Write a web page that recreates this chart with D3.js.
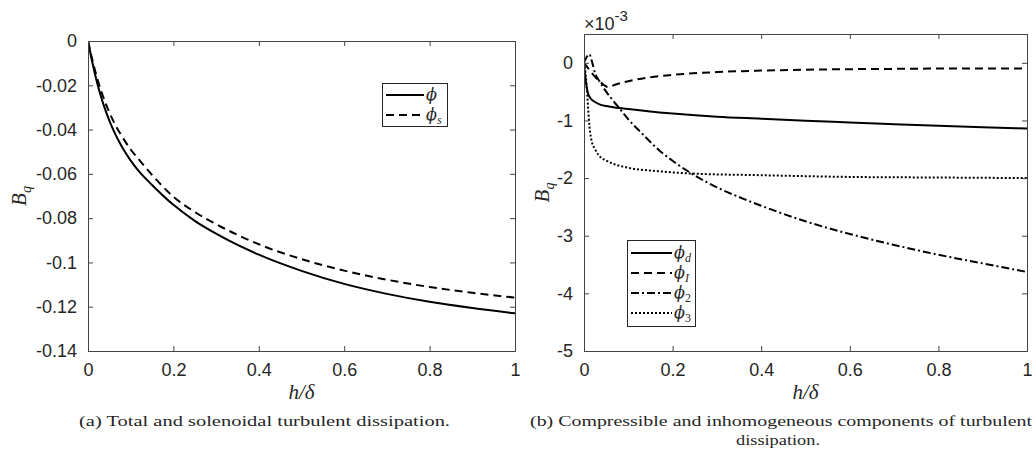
<!DOCTYPE html>
<html><head><meta charset="utf-8">
<script src="https://cdn.jsdelivr.net/npm/d3@7"></script>
<style>
body{margin:0;background:#fff;}
svg text{fill:#262626;}
</style>
</head><body>
<svg id="c" width="1036" height="449"></svg>
<script>
// ---- Data (a) ----
const xA = [0, 0.01, 0.02, 0.03, 0.04, 0.05, 0.06, 0.08, 0.1, 0.12, 0.15, 0.2, 0.25, 0.3, 0.4, 0.5, 0.6, 0.7, 0.8, 0.9, 1.0];
const phi = [0, -0.0095, -0.0178, -0.0248, -0.0308, -0.0360, -0.0405, -0.0480, -0.0540, -0.0590, -0.0650, -0.0740, -0.0812, -0.0870, -0.0965, -0.1038, -0.1097, -0.1142, -0.1178, -0.1206, -0.1230];
const phiS = [0, -0.0084, -0.0158, -0.0221, -0.0275, -0.0322, -0.0364, -0.0432, -0.0490, -0.0537, -0.0605, -0.0703, -0.0772, -0.0827, -0.0918, -0.0985, -0.1037, -0.1078, -0.1111, -0.1137, -0.1159];
const xTicksA = [0, 0.2, 0.4, 0.6, 0.8, 1];
const yTicksA = [0, -0.02, -0.04, -0.06, -0.08, -0.1, -0.12, -0.14];
const yTickLabelsA = ["0", "-0.02", "-0.04", "-0.06", "-0.08", "-0.1", "-0.12", "-0.14"];

// ---- Data (b) (values x 1e-3) ----
const xD = [0, 0.001, 0.003, 0.006, 0.009, 0.015, 0.025, 0.035, 0.05, 0.08, 0.12, 0.17, 0.2, 0.3, 0.4, 0.5, 0.6, 0.7, 0.8, 0.9, 1.0];
const phiD = [0, -0.1, -0.25, -0.42, -0.53, -0.62, -0.68, -0.72, -0.75, -0.785, -0.82, -0.86, -0.88, -0.935, -0.97, -1.005, -1.035, -1.065, -1.094, -1.12, -1.14];
const xI = [0, 0.01, 0.02, 0.035, 0.055, 0.07, 0.1, 0.15, 0.2, 0.3, 0.4, 0.5, 0.6, 0.7, 0.8, 0.9, 1.0];
const phiI = [0, -0.1, -0.2, -0.32, -0.42, -0.38, -0.32, -0.25, -0.21, -0.16, -0.135, -0.12, -0.11, -0.105, -0.1, -0.1, -0.1];
const x2 = [0, 0.006, 0.012, 0.018, 0.025, 0.035, 0.05, 0.065, 0.081, 0.1, 0.13, 0.17, 0.2, 0.247, 0.3, 0.36, 0.4, 0.5, 0.6, 0.7, 0.8, 0.9, 1.0];
const phi2 = [0, 0.1, 0.15, 0.02, -0.18, -0.32, -0.5, -0.65, -0.8, -0.98, -1.22, -1.52, -1.70, -1.94, -2.16, -2.36, -2.48, -2.75, -2.97, -3.16, -3.33, -3.48, -3.63];
const x3 = [0, 0.003, 0.006, 0.009, 0.011, 0.0165, 0.025, 0.032, 0.054, 0.1, 0.167, 0.24, 0.4, 0.6, 0.8, 1.0];
const phi3 = [0, -0.15, -0.4, -0.75, -0.98, -1.33, -1.5, -1.59, -1.71, -1.82, -1.88, -1.92, -1.95, -1.98, -1.99, -2.0];
const xTicksB = [0, 0.2, 0.4, 0.6, 0.8, 1];
const yTicksB = [0, -1, -2, -3, -4, -5];
const yTickLabelsB = ["0", "-1", "-2", "-3", "-4", "-5"];

const svg = d3.select("#c");
const tickFont = "'Liberation Sans', Arial, sans-serif";
const serif = "'Liberation Serif', 'Times New Roman', serif";
const mathFont = "'DejaVu Serif', serif";

function panel(o) {
  const x = d3.scaleLinear().domain(o.xDomain).range(o.xRange);
  const y = d3.scaleLinear().domain(o.yDomain).range(o.yRange);
  const g = svg.append("g");
  const [x0, x1] = o.xRange, [y0, y1] = o.yRange;
  const clipId = "clip" + o.id;
  svg.append("clipPath").attr("id", clipId).append("rect")
    .attr("x", x0).attr("y", y1).attr("width", x1 - x0).attr("height", y0 - y1);

  const lg = g.append("g").attr("clip-path", `url(#${clipId})`);
  o.series.forEach(s => {
    const line = d3.line().x(d => x(d[0])).y(d => y(d[1])).curve(d3.curveMonotoneX);
    lg.append("path").datum(s.x.map((v, i) => [v, s.y[i]]))
      .attr("d", line).attr("fill", "none").attr("stroke", "#000")
      .attr("stroke-width", 2).attr("stroke-dasharray", s.dash || null);
  });

  const tl = 5;
  const ax = g.append("g");
  ax.append("g").attr("transform", `translate(0,${y0})`)
    .call(d3.axisBottom(x).tickValues(o.xTicks).tickSize(-tl).tickPadding(12).tickFormat(d3.format("")));
  ax.append("g").attr("transform", `translate(0,${y1})`)
    .call(d3.axisTop(x).tickValues(o.xTicks).tickSize(-tl).tickFormat(""));
  ax.append("g").attr("transform", `translate(${x0},0)`)
    .call(d3.axisLeft(y).tickValues(o.yTicks).tickSize(-tl).tickPadding(11).tickFormat((d, i) => o.yLabels[i]));
  ax.append("g").attr("transform", `translate(${x1},0)`)
    .call(d3.axisRight(y).tickValues(o.yTicks).tickSize(-tl).tickFormat(""));
  ax.selectAll(".domain").attr("stroke", "#444").attr("stroke-width", 1);
  ax.selectAll(".tick line").attr("stroke", "#444");
  ax.selectAll("text").attr("font-family", tickFont).attr("font-size", 18).attr("fill", "#262626");

  g.append("text").attr("x", (x0 + x1) / 2).attr("y", o.xLabelY).attr("text-anchor", "middle")
    .attr("font-family", serif).attr("font-style", "italic").attr("font-size", 21).text("h/δ");
  const yl = g.append("text").attr("transform", `translate(${o.yLabelX},${(y0 + y1) / 2}) rotate(-90)`)
    .attr("text-anchor", "middle").attr("font-family", serif).attr("font-style", "italic").attr("font-size", 21);
  yl.append("tspan").text("B");
  yl.append("tspan").attr("font-size", 14).attr("dy", 5).text("q");

  const L = o.legend;
  g.append("rect").attr("x", L.x + 0.5).attr("y", L.y + 0.5).attr("width", L.w).attr("height", L.h)
    .attr("fill", "#fff").attr("stroke", "#262626").attr("stroke-width", 1);
  o.series.forEach((s, i) => {
    const yy = L.y + L.first + i * L.step;
    g.append("line").attr("x1", L.x + 4).attr("x2", L.x + L.lineLen).attr("y1", yy).attr("y2", yy)
      .attr("stroke", "#000").attr("stroke-width", 2).attr("stroke-dasharray", s.dash || null);
    const t = g.append("text").attr("x", L.x + L.lineLen + 2).attr("y", yy + 5)
      .attr("font-family", mathFont).attr("font-size", 16);
    t.append("tspan").attr("font-style", "italic").text("ϕ");
    if (s.sub) t.append("tspan").attr("font-family", serif).attr("font-size", 12).attr("dy", 4)
      .attr("font-style", s.subItalic ? "italic" : "normal").text(s.sub);
  });
  return { x, y, g };
}

panel({
  id: "a", xDomain: [0, 1], xRange: [88, 515], yDomain: [-0.14, 0], yRange: [351, 41],
  xTicks: xTicksA, yTicks: yTicksA, yLabels: yTickLabelsA,
  xLabelY: 399, yLabelX: 26,
  series: [
    { x: xA, y: phi, sub: "" },
    { x: xA, y: phiS, dash: "8,5", sub: "s", subItalic: true }
  ],
  legend: { x: 382, y: 83, w: 65, h: 43, first: 12, step: 20, lineLen: 42 }
});

panel({
  id: "b", xDomain: [0, 1], xRange: [584, 1027], yDomain: [-5, 0.5], yRange: [351, 34],
  xTicks: xTicksB, yTicks: yTicksB, yLabels: yTickLabelsB,
  xLabelY: 399, yLabelX: 549,
  series: [
    { x: xD, y: phiD, sub: "d", subItalic: true },
    { x: xI, y: phiI, dash: "8,5", sub: "I", subItalic: true },
    { x: x2, y: phi2, dash: "8,3,2,3", sub: "2" },
    { x: x3, y: phi3, dash: "2,2", sub: "3" }
  ],
  legend: { x: 627, y: 240, w: 68, h: 86, first: 13, step: 20, lineLen: 45 }
});

const ex = svg.append("text").attr("x", 584).attr("y", 30).attr("font-family", tickFont).attr("font-size", 18);
ex.append("tspan").text("×10");
ex.append("tspan").attr("dy", -9).attr("font-size", 15).text("-3");

svg.append("text").attr("x", 79).attr("y", 426).attr("font-family", serif).attr("font-size", 15)
  .attr("textLength", 371).attr("lengthAdjust", "spacingAndGlyphs")
  .text("(a) Total and solenoidal turbulent dissipation.");
svg.append("text").attr("x", 530).attr("y", 426).attr("font-family", serif).attr("font-size", 15)
  .attr("textLength", 502).attr("lengthAdjust", "spacingAndGlyphs")
  .text("(b) Compressible and inhomogeneous components of turbulent");
svg.append("text").attr("x", 778).attr("y", 445).attr("font-family", serif).attr("font-size", 15)
  .attr("text-anchor", "middle").attr("textLength", 84).attr("lengthAdjust", "spacingAndGlyphs")
  .text("dissipation.");
</script>
</body></html>
